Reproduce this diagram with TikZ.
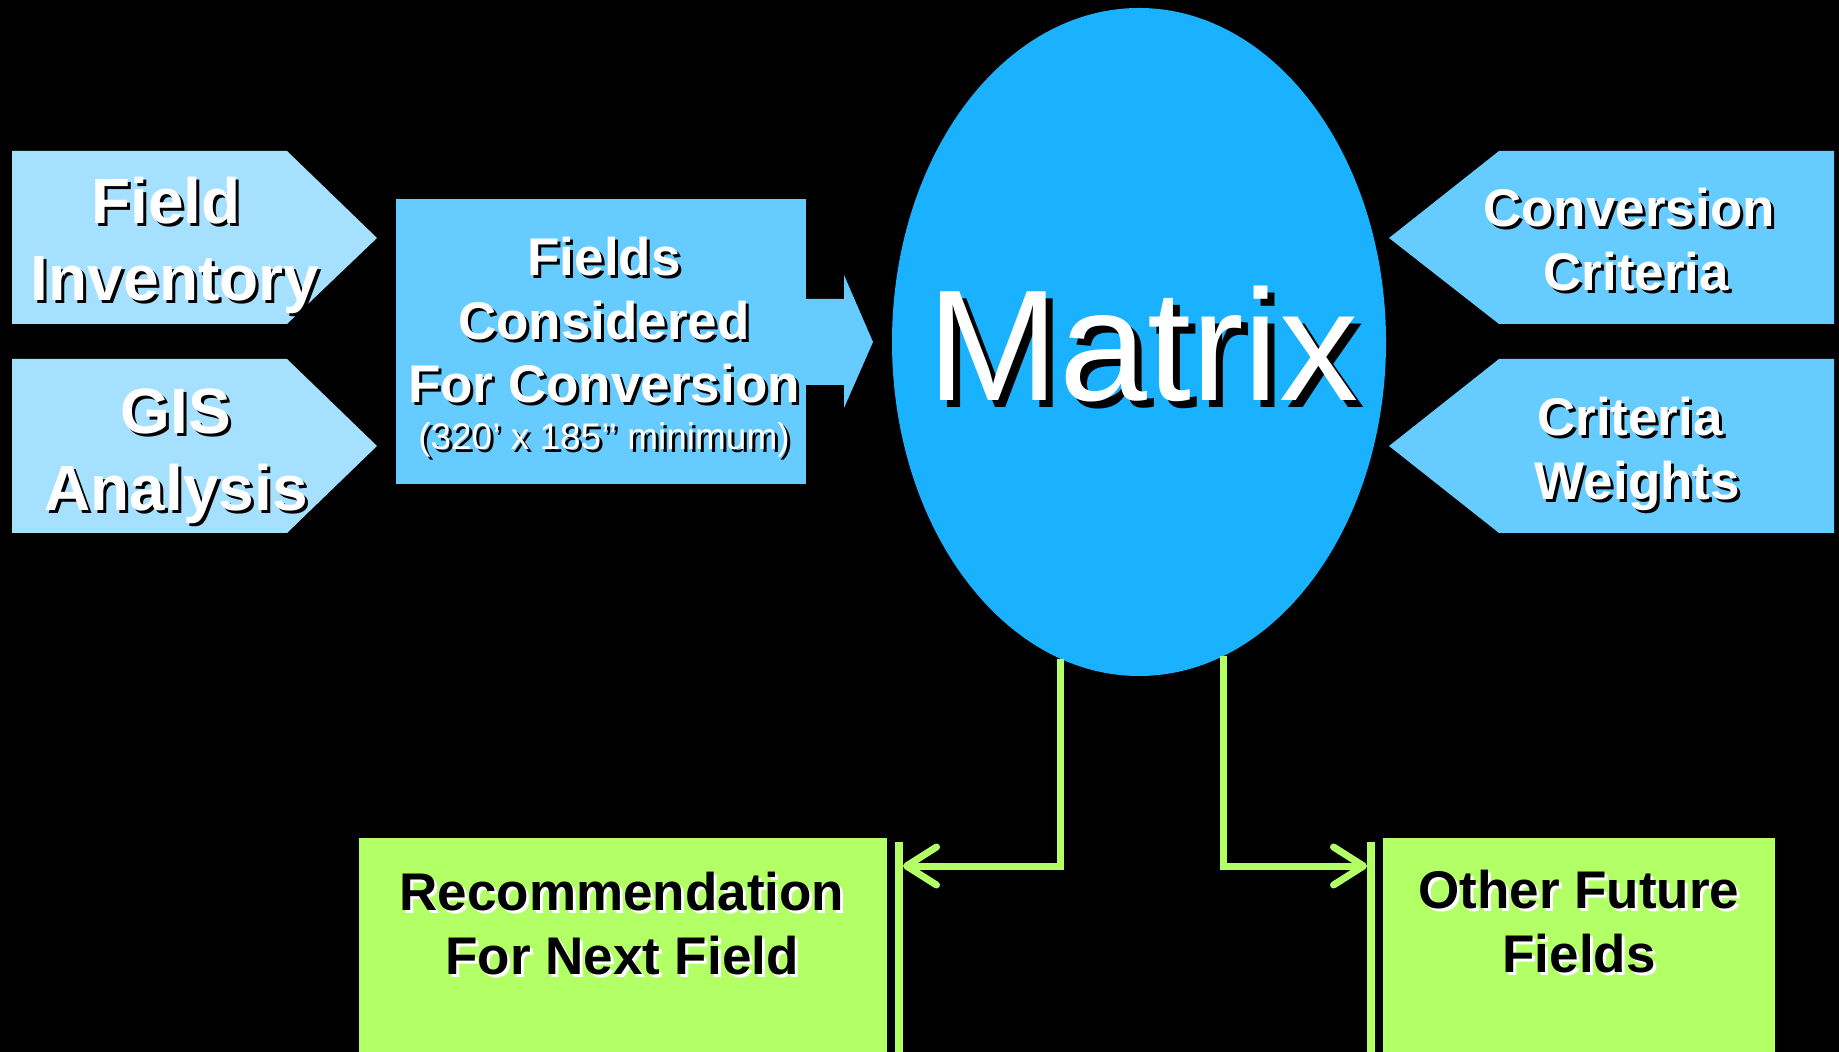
\documentclass[tikz,border=0pt]{standalone}
\usepackage{fontspec}
\setmainfont{Liberation Sans}
\usetikzlibrary{arrows.meta,shapes.geometric}
\definecolor{palesky}{RGB}{166,224,255}
\definecolor{sky}{RGB}{102,204,255}
\definecolor{deepsky}{RGB}{26,178,255}
\definecolor{leaf}{RGB}{178,255,102}
\newlength\shoff
\setlength\shoff{1.5pt}
\newcommand\shd[2][black]{\rlap{\kern\shoff\raisebox{-\shoff}{\color{#1}#2}}#2}

\begin{document}
\begin{tikzpicture}[x=0.5pt,y=0.5pt,yscale=-1,xscale=1,
    bigtxt/.style={anchor=north,inner sep=0pt,align=center,text=white,font=\bfseries\fontsize{32}{38.5}\selectfont},
    midtxt/.style={anchor=north,inner sep=0pt,align=center,text=white,font=\bfseries\fontsize{26.5}{31.75}\selectfont},
    outtxt/.style={midtxt,text=black},
    link/.style={draw=leaf,line width=3.5pt,-{Straight Barb[length=15pt,width=19pt,round]}},
    endbar/.style={draw=leaf,line width=4pt}]
%uncomment if require: \path (0,1052); %black slide behind everything
    \path[use as bounding box,fill=black] (0,0) rectangle (1839,1052);

%Shape: Pentagon
    \fill[palesky] (12,151) -- (287,151) -- (377,238) -- (287,324) -- (12,324) -- cycle ;
%Shape: Pentagon
    \fill[palesky] (12,359) -- (287,359) -- (377,446) -- (287,533) -- (12,533) -- cycle ;
%Shape: Pentagon
    \fill[sky] (1834,151) -- (1499,151) -- (1389,238) -- (1499,324) -- (1834,324) -- cycle ;
%Shape: Pentagon
    \fill[sky] (1834,359) -- (1499,359) -- (1389,446) -- (1499,533) -- (1834,533) -- cycle ;
%Shape: Rectangle
    \fill[sky] (396,199) rectangle (806,484) ;
%Shape: Right Arrow
    \fill[sky] (806,299) -- (844,299) -- (844,275) -- (873,342) -- (844,408) -- (844,385) -- (806,385) -- cycle ;
%Shape: Ellipse
    \node (matrix) [ellipse,fill=deepsky,inner sep=0pt,minimum width=247pt,minimum height=334pt] at (1139,342) {};
%Shape: Rectangle
    \fill[leaf] (359,838) rectangle (887,1052) ;
%Shape: Rectangle
    \fill[leaf] (1383,838) rectangle (1775,1052) ;

%Straight Lines
    \draw[endbar] (899,842) -- (899,1052) ;
    \draw[endbar] (1371,842) -- (1371,1052) ;
    \coordinate (nexttip) at (903,866);
    \coordinate (futuretip) at (1367,866);
%Elbow Connectors
    \draw[link] (matrix.256) |- (nexttip) ;
    \draw[link] (matrix.285) |- (futuretip) ;

% Text Node
    \node (fieldinv) [bigtxt] at (175,177) {\shd{Field}\kern8.9pt\\\shd{Inventory}};
% Text Node
    \node (gis) [bigtxt] at (176,388) {\shd{GIS}\\\shd{Analysis}};
% Text Node
    \node (fieldscons) [midtxt] at (604,237) {\shd{Fields}\\\shd{Considered}\\\shd{For Conversion}\\[-8.25pt]{\mdseries\fontsize{18.5}{22}\selectfont\shd{(320’ x 185’’ minimum)}}};
% Text Node
    \node (matrixlbl) [anchor=base,inner sep=0pt,text=white,font=\fontsize{79}{90}\selectfont] at (1143,401) {\setlength\shoff{3.5pt}\shd{Matrix}};
% Text Node
    \node (convcrit) [midtxt] at (1629,188) {\shd{Conversion}\\\kern7.4pt\shd{Criteria}};
% Text Node
    \node (critweight) [midtxt] at (1630,397) {\shd{Criteria}\\\shd{\ Weights}};
% Text Node
    \node (nextfield) [outtxt] at (622,872) {\shd[white]{Recommendation}\\\shd[white]{For Next Field}};
% Text Node
    \node (futurefld) [outtxt] at (1579,870) {\shd[white]{Other Future}\\\shd[white]{Fields}};

\end{tikzpicture}
\end{document}
